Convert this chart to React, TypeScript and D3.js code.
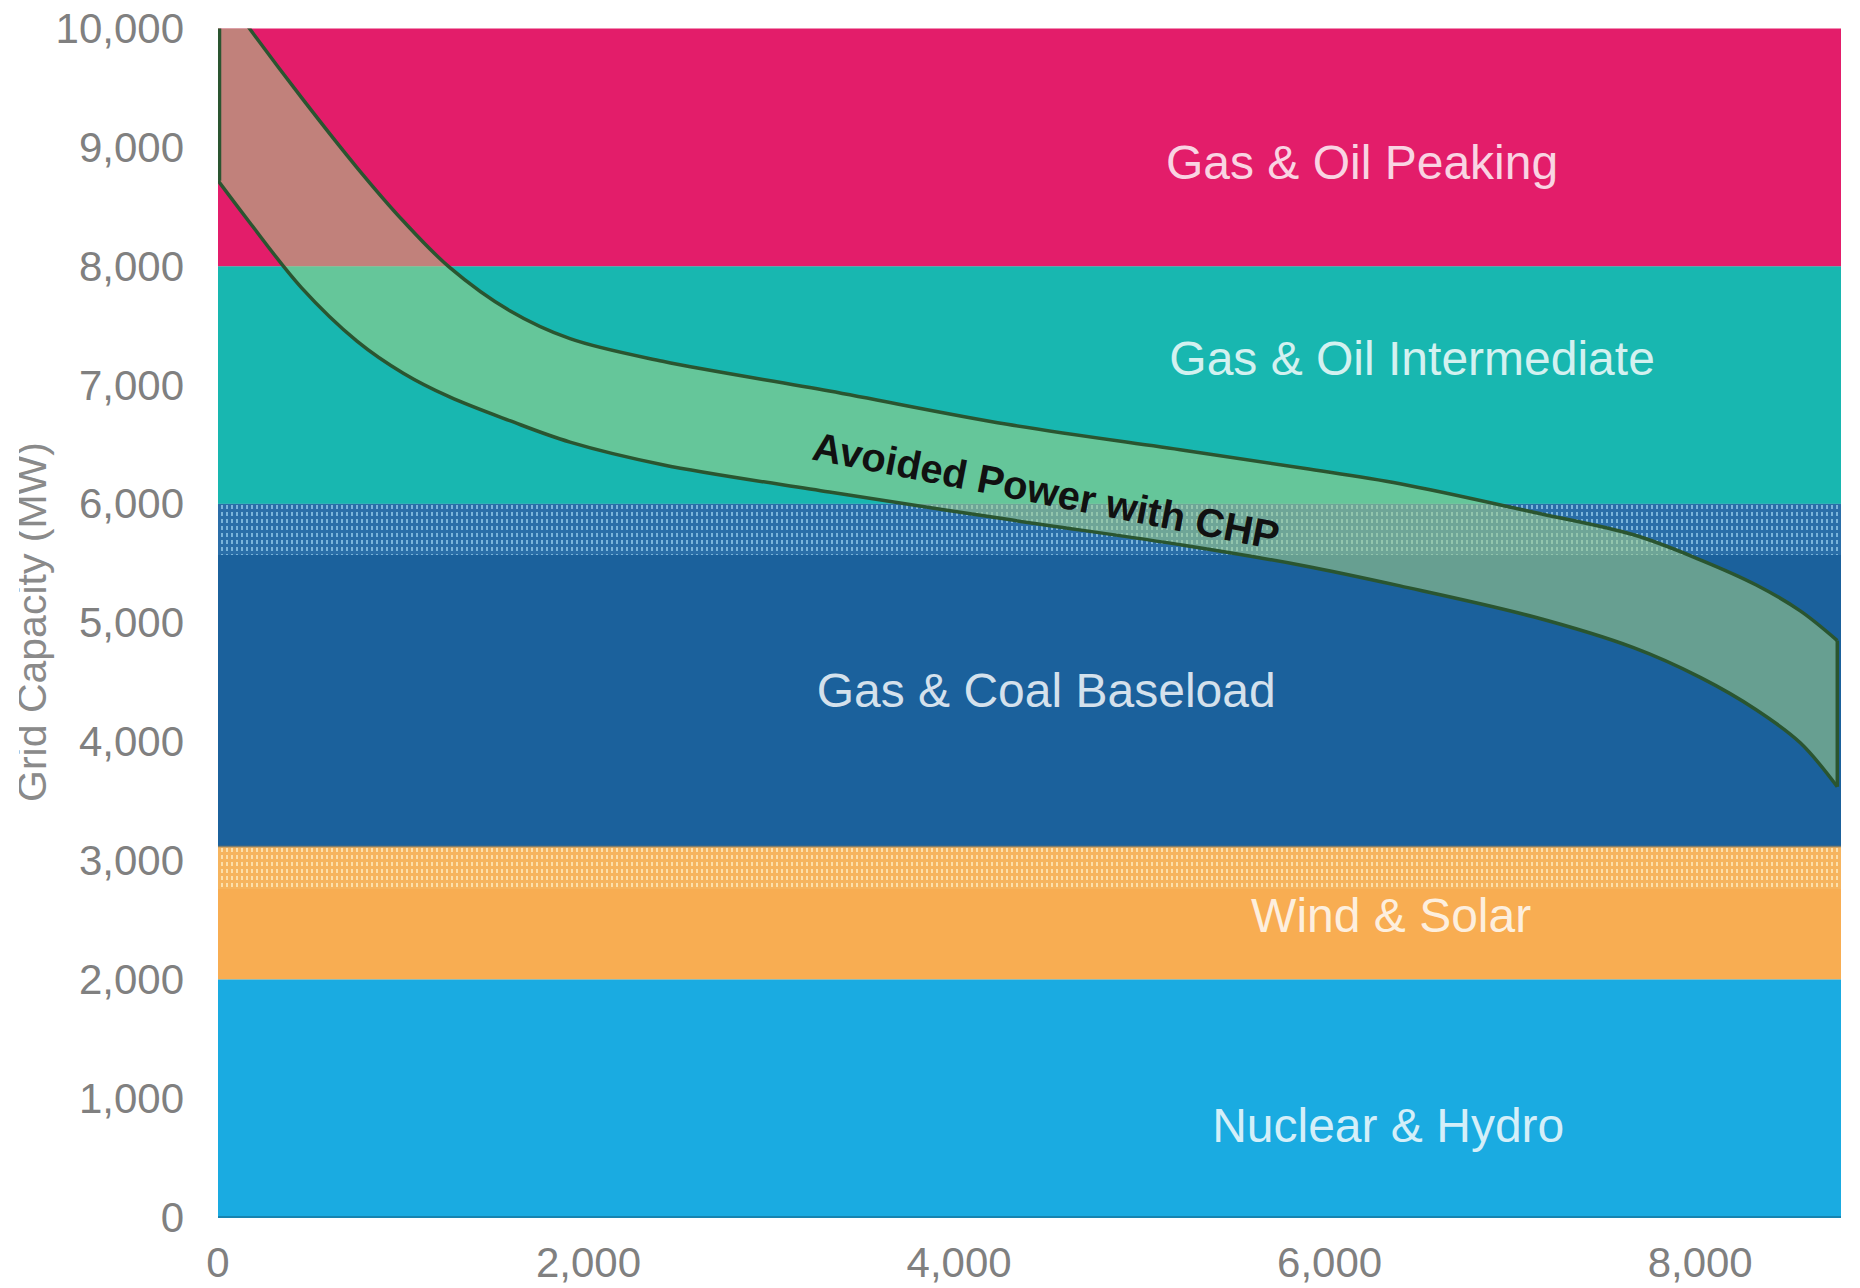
import React from "react";
import * as d3 from "d3";

// ---------- data ----------
const bandNames = ["Nuclear & Hydro", "Wind & Solar", "Gas & Coal Baseload", "Gas & Oil Intermediate", "Gas & Oil Peaking"];
const bandFromMW = [0, 2000, 3120, 6000, 8000];
const bandToMW = [2000, 3120, 6000, 8000, 10000];
const bandColors = ["#1aabe1", "#f8ad52", "#1b619c", "#18b7b0", "#e31d6a"];
// stippled transition zones (MW)
const stippleFrom = [2760, 5570];
const stippleTo = [3120, 6000];

const hours = [0, 170, 450, 750, 1000, 1250, 1575, 1900, 2400, 3300, 4260, 5220, 5860, 6380, 7100, 7640, 8000, 8300, 8540, 8740];
const upperMW = [10370, 10000, 9420, 8830, 8380, 7990, 7625, 7390, 7200, 6950, 6670, 6450, 6300, 6170, 5930, 5740, 5530, 5320, 5100, 4850];
const lowerMW = [8720, 8370, 7820, 7370, 7100, 6900, 6700, 6520, 6330, 6100, 5870, 5650, 5480, 5310, 5050, 4790, 4540, 4270, 3990, 3620];

const xTicks = [0, 2000, 4000, 6000, 8000];
const yTicks = [0, 1000, 2000, 3000, 4000, 5000, 6000, 7000, 8000, 9000, 10000];

const yTitle = "Grid Capacity (MW)";
const bandLabel = "Avoided Power with CHP";

export default function App() {
  const W = 1860, H = 1288;
  const x = d3.scaleLinear().domain([0, 8760]).range([218, 1841]);
  const y = d3.scaleLinear().domain([0, 10000]).range([1217, 28.5]);
  const fmt = d3.format(",");
  const font = "'Liberation Sans', Arial, sans-serif";

  const pts = hours.map((h, i) => ({ h, u: upperMW[i], l: lowerMW[i] }));
  const curve = d3.curveCatmullRom.alpha(0.5);
  const area = d3.area<any>()
    .x(d => x(d.h))
    .y0(d => y(d.l))
    .y1(d => y(d.u))
    .curve(curve);
  const lineU = d3.line<any>().x(d => x(d.h)).y(d => y(d.u)).curve(curve);
  const lineL = d3.line<any>().x(d => x(d.h)).y(d => y(d.l)).curve(curve);
  const first = pts[0], last = pts[pts.length - 1];

  // label anchors in data units
  const labelHour = [6316, 6332, 4470, 6445, 6175];
  const labelMW = [631, 2397, 4290, 7082, 8730];

  const plotX0 = x(0), plotX1 = x(8760);
  const stroke = "#2a5530";

  return (
    <svg width={W} height={H} style={{ position: "absolute", left: 0, top: 0, display: "block", background: "#fff" }}>
      <defs>
        <clipPath id="plotClip">
          <rect x={plotX0} y={y(10000)} width={plotX1 - plotX0} height={y(0) - y(10000)} />
        </clipPath>
        <pattern id="stipWind" width="5" height="7" patternUnits="userSpaceOnUse">
          <rect width="5" height="7" fill="#f6b45e" />
          <rect x="1" y="1" width="2" height="4" fill="#fde7b8" opacity="0.85" />
        </pattern>
        <pattern id="stipBase" width="5" height="7" patternUnits="userSpaceOnUse">
          <rect width="5" height="7" fill="#2a6ea8" />
          <rect x="1" y="1" width="2" height="4" fill="#8ec6e6" opacity="0.8" />
        </pattern>
        <clipPath id="titleClip">
          <rect x={19} y={0} width={100} height={H} />
        </clipPath>
      </defs>

      {/* bands */}
      <g>
        {bandNames.map((n, i) => (
          <rect key={n} x={plotX0} width={plotX1 - plotX0}
            y={y(bandToMW[i])} height={y(bandFromMW[i]) - y(bandToMW[i])}
            fill={bandColors[i]} />
        ))}
        {stippleFrom.map((f, i) => (
          <rect key={"s" + i} x={plotX0} width={plotX1 - plotX0}
            y={y(stippleTo[i])} height={y(f) - y(stippleTo[i])}
            fill={i === 0 ? "url(#stipWind)" : "url(#stipBase)"} />
        ))}
        <line x1={plotX0} x2={plotX1} y1={y(3120)} y2={y(3120)} stroke="#4d6a78" strokeWidth={2} opacity={0.7} />
        <line x1={plotX0} x2={plotX1} y1={y(0)} y2={y(0)} stroke="#1784b0" strokeWidth={2} />
      </g>

      {/* band labels */}
      {bandNames.map((n, i) => (
        <text key={"l" + n} x={x(labelHour[i])} y={y(labelMW[i])} textAnchor="middle"
          fontFamily={font} fontSize={48} fill="#ffffff" fillOpacity={0.82}>{n}</text>
      ))}

      {/* avoided power band */}
      <g clipPath="url(#plotClip)">
        <path d={area(pts) || ""} fill="rgb(166,212,136)" fillOpacity={0.55} />
        <path d={lineU(pts) || ""} fill="none" stroke={stroke} strokeWidth={3.5} />
        <path d={lineL(pts) || ""} fill="none" stroke={stroke} strokeWidth={3.5} />
        <line x1={x(first.h) + 1.5} x2={x(first.h) + 1.5} y1={y(first.u)} y2={y(first.l)} stroke={stroke} strokeWidth={3.5} />
        <line x1={x(last.h)} x2={x(last.h)} y1={y(last.u)} y2={y(last.l)} stroke={stroke} strokeWidth={3.5} />
      </g>
      <text transform={`translate(${x(4470)},${y(6110)}) rotate(11)`} textAnchor="middle" dominantBaseline="central"
        fontFamily={font} fontWeight="bold" fontSize={40} fill="#111">{bandLabel}</text>

      {/* y ticks */}
      {yTicks.map(t => (
        <text key={"y" + t} x={184} y={y(t)} textAnchor="end" dominantBaseline="central"
          fontFamily={font} fontSize={42} fill="#808080">{fmt(t)}</text>
      ))}
      {/* x ticks */}
      {xTicks.map(t => (
        <text key={"x" + t} x={x(t)} y={1262} textAnchor="middle" dominantBaseline="central"
          fontFamily={font} fontSize={42} fill="#808080">{fmt(t)}</text>
      ))}
      {/* y title */}
      <g clipPath="url(#titleClip)">
        <text transform="translate(46,622) rotate(-90)" textAnchor="middle"
          fontFamily={font} fontSize={41} fill="#8a8a8a">{yTitle}</text>
      </g>
    </svg>
  );
}
